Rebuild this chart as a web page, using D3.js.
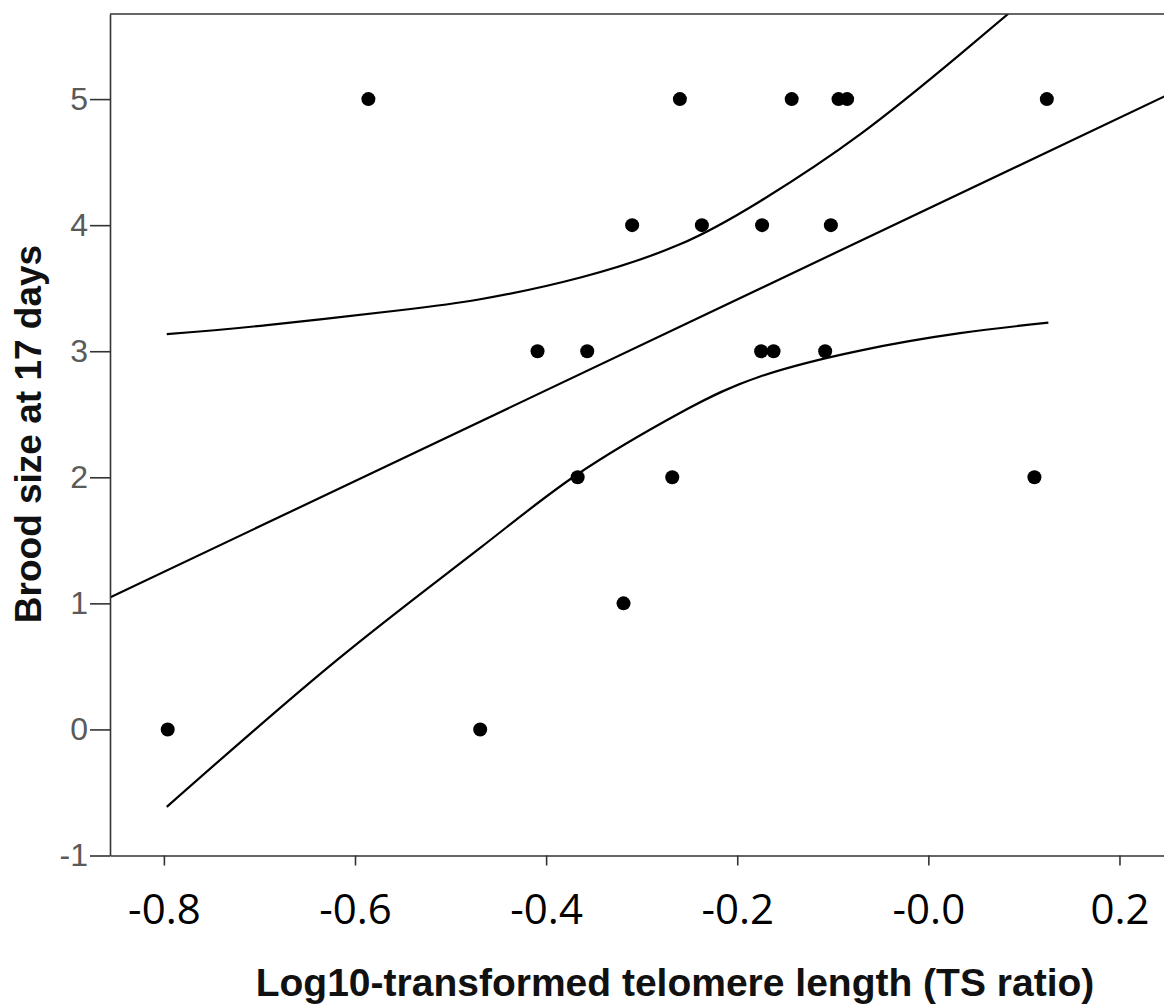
<!DOCTYPE html>
<html>
<head>
<meta charset="utf-8">
<script src="https://cdn.jsdelivr.net/npm/d3@7/dist/d3.min.js"></script>
<style>
  html, body { margin: 0; padding: 0; background: #fff; }
  svg { display: block; }
</style>
</head>
<body>
<svg id="chart" width="1164" height="1007"></svg>
<script>
// ---- data ----
const telomereX = [-0.796, -0.586, -0.469, -0.409, -0.357, -0.367, -0.319, -0.310, -0.268, -0.260, -0.237,
                   -0.175, -0.174, -0.162, -0.143, -0.108, -0.102, -0.094, -0.085, 0.111, 0.124];
const broodY    = [0, 5, 0, 3, 3, 2, 1, 4, 2, 5, 4,
                   3, 4, 3, 5, 3, 4, 5, 5, 2, 5];

const fitX = [-0.856, 0.247];
const fitY = [1.048, 5.021];

const upperX = [-0.797, -0.692, -0.553, -0.469, -0.364, -0.260, -0.176, -0.0715, 0.0332, 0.0837];
const upperY = [3.135, 3.207, 3.325, 3.412, 3.585, 3.848, 4.190, 4.72, 5.355, 5.677];

const lowerX = [-0.797, -0.619, -0.469, -0.368, -0.260, -0.176, -0.0715, 0.0332, 0.1256];
const lowerY = [-0.614, 0.550, 1.440, 2.020, 2.510, 2.800, 3.005, 3.143, 3.227];

const xTickValues = [-0.8, -0.6, -0.4, -0.2, 0, 0.2];
const xTickLabels = ["-0.8", "-0.6", "-0.4", "-0.2", "-0.0", "0.2"];
const yTickValues = [-1, 0, 1, 2, 3, 4, 5];
const yTickLabels = ["-1", "0", "1", "2", "3", "4", "5"];

const xTitle = "Log10-transformed telomere length (TS ratio)";
const yTitle = "Brood size at 17 days";

(function () {
  // ---- layout ----
  const pL = 110, pR = 1164, pT = 14, pB = 855.5;
  const svg = d3.select("#chart");

  const x = d3.scaleLinear().domain([-0.8564, 0.2466]).range([pL, pR]);
  const y = d3.scaleLinear().domain([-1, 5.675]).range([pB, pT]);

  svg.append("defs").append("clipPath").attr("id", "plotclip")
    .append("rect").attr("x", pL).attr("y", pT)
    .attr("width", pR - pL).attr("height", pB - pT);

  const plot = svg.append("g").attr("clip-path", "url(#plotclip)");

  const lineGen = d3.line().x(d => x(d[0])).y(d => y(d[1]));
  const curveGen = d3.line().x(d => x(d[0])).y(d => y(d[1])).curve(d3.curveNatural);

  plot.append("path")
    .datum(fitX.map((v, i) => [v, fitY[i]]))
    .attr("d", lineGen)
    .attr("fill", "none").attr("stroke", "#000").attr("stroke-width", 2.2);

  plot.append("path")
    .datum(upperX.map((v, i) => [v, upperY[i]]))
    .attr("d", curveGen)
    .attr("fill", "none").attr("stroke", "#000").attr("stroke-width", 2.2);

  plot.append("path")
    .datum(lowerX.map((v, i) => [v, lowerY[i]]))
    .attr("d", curveGen)
    .attr("fill", "none").attr("stroke", "#000").attr("stroke-width", 2.2);

  plot.selectAll("circle.pt")
    .data(telomereX.map((v, i) => [v, broodY[i]]))
    .join("circle")
    .attr("class", "pt")
    .attr("cx", d => x(d[0]))
    .attr("cy", d => y(d[1]))
    .attr("r", 7)
    .attr("fill", "#000");

  // ---- axes ----
  const yAxis = d3.axisLeft(y)
    .tickValues(yTickValues)
    .tickFormat((d, i) => yTickLabels[i])
    .tickSize(20).tickSizeOuter(0).tickPadding(2);

  const gy = svg.append("g").attr("transform", `translate(${pL},0)`).call(yAxis);
  gy.select(".domain").attr("stroke", "#333").attr("stroke-width", 1.6);
  gy.selectAll(".tick line").attr("stroke", "#333").attr("stroke-width", 1.6);
  gy.selectAll(".tick text")
    .attr("font-family", "'Liberation Sans', Arial, sans-serif")
    .attr("font-size", 32)
    .attr("fill", "#5a5a5a");

  // cover strip (the lower area of the reference was pasted over)
  svg.append("rect").attr("x", 0).attr("y", 866).attr("width", pL - 2).attr("height", 40).attr("fill", "#fff");

  const xAxis = d3.axisBottom(x)
    .tickValues(xTickValues)
    .tickFormat((d, i) => xTickLabels[i])
    .tickSize(10).tickSizeOuter(0);

  const gx = svg.append("g").attr("transform", `translate(0,${pB})`).call(xAxis);
  gx.select(".domain").attr("stroke", "#333").attr("stroke-width", 1.6);
  gx.selectAll(".tick line").attr("stroke", "#333").attr("stroke-width", 1.6);
  gx.selectAll(".tick text")
    .attr("font-family", "'Open Sans', sans-serif")
    .attr("font-size", 42)
    .attr("fill", "#000")
    .attr("y", 68).attr("dy", 0);

  // top border
  svg.append("line")
    .attr("x1", pL).attr("x2", pR).attr("y1", pT).attr("y2", pT)
    .attr("stroke", "#333").attr("stroke-width", 1.6);

  // ---- titles ----
  svg.append("text")
    .attr("x", (256 + 1094) / 2).attr("y", 996)
    .attr("text-anchor", "middle")
    .attr("font-family", "'Liberation Sans', Arial, sans-serif")
    .attr("font-weight", "bold")
    .attr("font-size", 39)
    .attr("fill", "#111")
    .text(xTitle);

  svg.append("text")
    .attr("transform", "translate(41,434) rotate(-90)")
    .attr("text-anchor", "middle")
    .attr("font-family", "'Liberation Sans', Arial, sans-serif")
    .attr("font-weight", "bold")
    .attr("font-size", 37)
    .attr("fill", "#111")
    .text(yTitle);
})();
</script>
</body>
</html>
